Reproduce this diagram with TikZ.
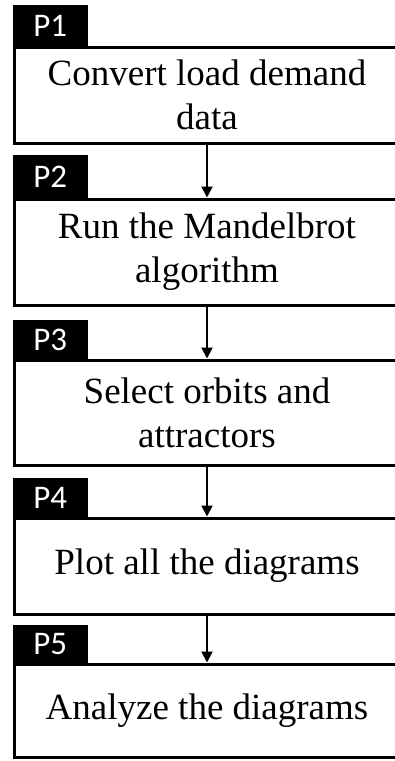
\documentclass[tikz,border=0pt]{standalone}
\usepackage{fontspec}
\setmainfont{Liberation Serif}
\newfontfamily\tabfont{Carlito}
\usetikzlibrary{arrows.meta}
\begin{document}
\begin{tikzpicture}[x=1pt,y=-1pt,
  stepbox/.style={draw, line width=3pt, minimum width=386pt, inner sep=0pt,
    align=center, font=\fontsize{37}{44}\selectfont},
  tabbox/.style={fill=black, text=white, minimum width=75pt, inner sep=0pt,
    anchor=south west, font=\tabfont\fontsize{33}{33}\selectfont},
  flow/.style={line width=2pt, -{Triangle[length=11pt,width=11pt]}}]
\useasboundingbox (0,0) rectangle (394,761);
\node[stepbox, minimum height=96pt]  (b1) at (207,95)    {Convert load demand\\data};
\node[stepbox, minimum height=106pt] (b2) at (207,252)   {Run the Mandelbrot\\algorithm};
\node[stepbox, minimum height=105pt] (b3) at (207,412.5) {Select orbits and\\attractors};
\node[stepbox, minimum height=96pt]  (b4) at (207,566)   {Plot all the diagrams};
\node[stepbox, minimum height=93pt]  (b5) at (207,710.5) {Analyze the diagrams};
\node[tabbox, minimum height=42pt] (t1) at (12.5,47)  {P1};
\node[tabbox, minimum height=44pt] (t2) at (12.5,199) {P2};
\node[tabbox, minimum height=40pt] (t3) at (12.5,360) {P3};
\node[tabbox, minimum height=40pt] (t4) at (12.5,518) {P4};
\node[tabbox, minimum height=39pt] (t5) at (12.5,664) {P5};
\draw[flow] (b1.south) -- (b2.north);
\draw[flow] (b2.south) -- (b3.north);
\draw[flow] (b3.south) -- (b4.north);
\draw[flow] (b4.south) -- (b5.north);
\end{tikzpicture}
\end{document}
